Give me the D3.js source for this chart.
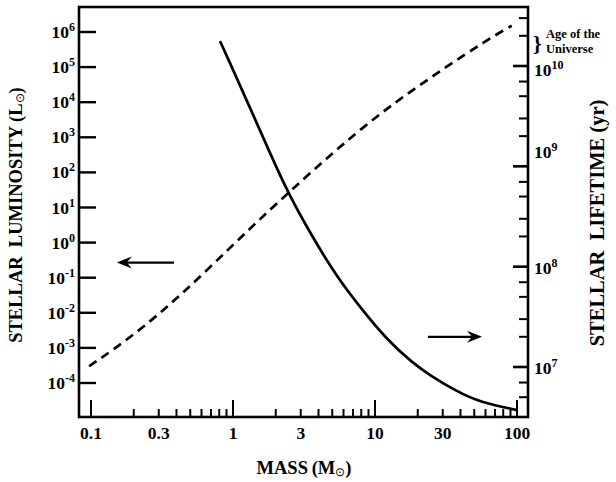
<!DOCTYPE html>
<html><head><meta charset="utf-8">
<script src="https://cdn.jsdelivr.net/npm/d3@7"></script>
<style>
body{margin:0;background:#fff}
svg text{font-family:"Liberation Serif","Times New Roman",serif;font-weight:bold;fill:#000}
</style></head><body><div id="chart"></div>
<script>
// luminosity (dashed, left axis) vs mass
const lumMass = [0.097,0.144,0.221,0.323,0.447,0.653,0.953,1.32,1.82,2.45,3.30,4.57,5.98,8.28,11.5,15.8,21.9,30.3,41.9,57.9,75.9,91.8];
const lumVal  = [3.0e-4,8.97e-4,3.29e-3,1.19e-2,3.83e-2,0.162,0.708,2.51,8.63,25.7,77.8,251,643,1940,5470,1.44e4,3.57e4,8.87e4,2.13e5,4.97e5,9.75e5,1.51e6];
// lifetime (solid, right axis) vs mass
const lifeMass = [0.81,0.953,1.32,1.82,2.44,3.66,5.40,7.84,12.2,18.5,24.4,37.8,54.9,100];
const lifeVal  = [1.77e10,1.07e10,3.81e9,1.36e9,5.42e8,1.93e8,7.87e7,3.95e7,1.85e7,1.09e7,8.26e6,5.69e6,4.46e6,3.72e6];

const massLabels = [0.1,0.3,1,3,10,30,100];
const massMajor = [0.1,1,10,100];
const lumExps = [-4,-3,-2,-1,0,1,2,3,4,5,6];
const lifeExps = [7,8,9,10];
const lifeMinorMult = [2,3,5,7];
const noteLines = ["Age of the","Universe"];

// arrows in data units: [m0, m1, value]
const lumArrow = [0.384,0.152,0.27];
const lifeArrow = [23.6,56.7,2.0e7];

const W=616, H=482;
const fr = {l:79, r:528, t:7, b:417};

const svg = d3.select("#chart").append("svg").attr("width",W).attr("height",H);

const x = d3.scaleLog().domain([0.1,100]).range([91,517]);
const yL = d3.scaleLog().domain([1e-4,1e6]).range([383,32]);
const yT = d3.scaleLog().domain([1e7,1e10]).range([367,66]);

// frame
svg.append("rect").attr("x",fr.l).attr("y",fr.t).attr("width",fr.r-fr.l).attr("height",fr.b-fr.t)
  .attr("fill","none").attr("stroke","#000").attr("stroke-width",2.6);

// mass ticks (inward from bottom)
const massTicks = [];
[0.1,1,10].forEach(d=>{ for(let k=1;k<10;k++) massTicks.push(d*k); });
massTicks.push(100);
svg.append("g").selectAll("line").data(massTicks).join("line")
  .attr("x1",d=>x(d)).attr("x2",d=>x(d)).attr("y1",fr.b)
  .attr("y2",d=>fr.b-(massMajor.some(m=>Math.abs(m-d)<1e-9)?17:8))
  .attr("stroke","#000").attr("stroke-width",2);
svg.append("g").selectAll("text").data(massLabels).join("text")
  .attr("x",d=>x(d)).attr("y",439).attr("text-anchor","middle").attr("font-size",17.5).text(d=>d);

// luminosity ticks (inward from left)
svg.append("g").selectAll("line").data(lumExps).join("line")
  .attr("x1",fr.l).attr("x2",fr.l+17).attr("y1",d=>yL(10**d)).attr("y2",d=>yL(10**d))
  .attr("stroke","#000").attr("stroke-width",2.4);
const ll = svg.append("g").selectAll("text").data(lumExps).join("text")
  .attr("x",75).attr("y",d=>yL(10**d)+6).attr("text-anchor","end").attr("font-size",17.5);
ll.append("tspan").text("10");
ll.append("tspan").attr("dy",-7).attr("font-size",12).text(d=>d<0?"-"+(-d):d);

// lifetime ticks (inward from right)
const lifeMinor = [];
[1e6,1e7,1e8,1e9,1e10].forEach(d=>lifeMinorMult.forEach(k=>{
  const v=d*k; const p=yT(v); if(p>fr.t+2 && p<fr.b-2) lifeMinor.push(v);}));
svg.append("g").selectAll("line").data(lifeMinor).join("line")
  .attr("x1",fr.r).attr("x2",fr.r-9).attr("y1",d=>yT(d)).attr("y2",d=>yT(d))
  .attr("stroke","#000").attr("stroke-width",2);
svg.append("g").selectAll("line").data(lifeExps).join("line")
  .attr("x1",fr.r).attr("x2",fr.r-15).attr("y1",d=>yT(10**d)).attr("y2",d=>yT(10**d))
  .attr("stroke","#000").attr("stroke-width",2.6);
const lifeDy = {7:7,8:7,9:-8,10:10};
const rl = svg.append("g").selectAll("text").data(lifeExps).join("text")
  .attr("x",534).attr("y",d=>yT(10**d)+lifeDy[d]).attr("font-size",17.5);
rl.append("tspan").text("10");
rl.append("tspan").attr("dy",-7).attr("font-size",12).text(d=>d);

// curves
const lumPts = lumMass.map((m,i)=>[m,lumVal[i]]);
const lifePts = lifeMass.map((m,i)=>[m,lifeVal[i]]);
svg.append("path").attr("d",d3.line().x(d=>x(d[0])).y(d=>yL(d[1])).curve(d3.curveBasis)(lumPts))
  .attr("fill","none").attr("stroke","#000").attr("stroke-width",2.7).attr("stroke-dasharray","9,6");
svg.append("path").attr("d",d3.line().x(d=>x(d[0])).y(d=>yT(d[1])).curve(d3.curveBasis)(lifePts))
  .attr("fill","none").attr("stroke","#000").attr("stroke-width",2.7);

// arrows
function arrow(x0,x1,yy){
  const dir = Math.sign(x1-x0);
  svg.append("line").attr("x1",x0).attr("x2",x1-dir*6).attr("y1",yy).attr("y2",yy)
    .attr("stroke","#000").attr("stroke-width",2.2);
  svg.append("path").attr("d",`M${x1},${yy} L${x1-dir*15},${yy-6} L${x1-dir*10},${yy} L${x1-dir*15},${yy+6}Z`)
    .attr("fill","#000");
}
arrow(x(lumArrow[0]),x(lumArrow[1]),yL(lumArrow[2]));
arrow(x(lifeArrow[0]),x(lifeArrow[1]),yT(lifeArrow[2]));

// age of the universe note
svg.append("text").attr("x",533).attr("y",51).attr("font-size",22).attr("font-weight","normal").text("}");
svg.append("g").selectAll("text").data(noteLines).join("text")
  .attr("x",546).attr("y",(d,i)=>38+i*14.5).attr("font-size",12.5).text(d=>d);

// axis titles
const tl = svg.append("text").attr("transform","translate(22,215) rotate(-90)").attr("text-anchor","middle").attr("font-size",18.5);
tl.append("tspan").text("STELLAR\u00a0\u00a0LUMINOSITY (L");
tl.append("tspan").attr("font-size",12).attr("font-weight","normal").attr("dy",2).text("\u2299");
tl.append("tspan").attr("dy",-2).text(")");

svg.append("text").attr("transform","translate(604,223) rotate(-90)").attr("text-anchor","middle").attr("font-size",20.5)
  .text("STELLAR\u00a0\u00a0LIFETIME (yr)");

const tx = svg.append("text").attr("x",304).attr("y",474).attr("text-anchor","middle").attr("font-size",18.5);
tx.append("tspan").text("MASS\u2009(M");
tx.append("tspan").attr("font-size",12).attr("font-weight","normal").attr("dy",2).text("\u2299");
tx.append("tspan").attr("dy",-2).text(")");
</script></body></html>
